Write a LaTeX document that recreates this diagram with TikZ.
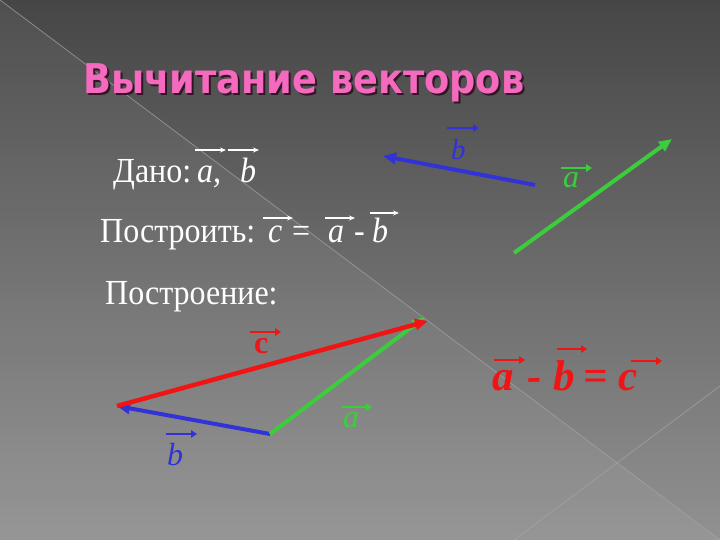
\documentclass[tikz,border=0pt]{standalone}
\usepackage{fontspec}
\setmainfont{Liberation Serif}
\newfontfamily\titlefont{DejaVu Sans}[BoldFont={DejaVu Sans Bold}]
\usetikzlibrary{arrows.meta}
\definecolor{bgtop}{RGB}{70,70,70}
\definecolor{bgbot}{RGB}{145,145,145}
\definecolor{titlepink}{RGB}{245,105,190}
\definecolor{titleshadow}{RGB}{50,22,38}
\definecolor{vblue}{RGB}{50,50,215}
\definecolor{vgreen}{RGB}{60,205,60}
\definecolor{vred}{RGB}{240,20,20}
\definecolor{diag}{RGB}{165,165,165}
\newcommand{\tallx}[1]{\scalebox{1}[1.1]{#1}}
\newcommand{\ttlx}[1]{\scalebox{0.895}[1]{#1}}
\newcommand{\shadowtitle}[1]{\rlap{\hspace{2pt}\raisebox{-2pt}{\color{titleshadow}\ttlx{#1}}}{\color{titlepink}\ttlx{#1}}}
\tikzset{
  txt/.style={inner sep=0pt, anchor=base west, text=white, font=\fontsize{32}{38}\selectfont},
  lbl/.style={inner sep=0pt, anchor=base west, font=\fontsize{32}{38}\selectfont\itshape},
  big/.style={inner sep=0pt, anchor=base west, text=vred, font=\fontsize{43}{48}\selectfont\bfseries\itshape},
  vec/.style={line width=4pt, -{Triangle[length=13pt,width=11pt]}},
  warrow/.style={white, line width=1.3pt, -{Stealth[length=6pt,width=5pt]}},
  carrow/.style={line width=2.8pt, -{Triangle[length=6pt,width=7.5pt]}},
  ttl/.style={inner sep=0pt, anchor=base west, font=\fontsize{41}{46}\selectfont\titlefont\bfseries},
}
\begin{document}
\begin{tikzpicture}[x=1pt,y=-1pt]
\useasboundingbox (0,0) rectangle (720,540);
% background
\shade[top color=bgtop, bottom color=bgbot] (0,0) rectangle (720,540);
\fill[white, opacity=0.05] (0,0) -- (720,540) -- (0,540) -- cycle;
\draw[diag, line width=0.8pt, opacity=0.7] (0,0) -- (720,540);
\draw[diag, line width=0.8pt, opacity=0.7] (720,386) -- (514,540);
% title (dark shadow behind pink text)
\node[ttl] (title) at (83,94) {\shadowtitle{Вычитание векторов}};
% given
\node[txt] (dano) at (113,183) {\tallx{Дано:}};
\node[txt] (da) at (197,183) {\tallx{\itshape a,}};
\node[txt] (db) at (240,183) {\tallx{\itshape b}};
\draw[warrow] (195,150) -- (226,150);
\draw[warrow] (228,150) -- (259,150);
% construct
\node[txt] (postr) at (100,242) {\tallx{Построить:}};
\node[txt] (pc) at (268,242) {\tallx{\itshape c}};
\node[txt] (peq) at (292,242) {\tallx{=}};
\node[txt] (pa) at (328,242) {\tallx{\itshape a}};
\node[txt] (pm) at (354,242) {\tallx{-}};
\node[txt] (pb) at (372,242) {\tallx{\itshape b}};
\draw[warrow] (263,218) -- (293,218);
\draw[warrow] (325,218) -- (355,218);
\draw[warrow] (370,213) -- (399,213);
% construction
\node[txt] (postroenie) at (105,304) {\tallx{Построение:}};
% top-right vectors
\coordinate (b1t) at (535,185);
\coordinate (b1h) at (383,156);
\draw[vec, vblue] (b1t) -- (b1h);
\coordinate (a1t) at (514,253);
\coordinate (a1h) at (672,139);
\draw[vec, vgreen] (a1t) -- (a1h);
\node[lbl, text=vblue, font=\fontsize{29}{34}\selectfont\itshape] (lb1) at (451,160) {b};
\draw[carrow, vblue] (447,128) -- (479,128);
\node[lbl, text=vgreen] (la1) at (563,188) {a};
\draw[carrow, vgreen] (561,168) -- (592,168);
% triangle
\coordinate (P) at (270,434);
\coordinate (Q) at (117,406);
\coordinate (R) at (428,321);
\draw[vec, vblue] (P) -- (Q);
\draw[vec, vgreen] (P) -- ([shift={(-3pt,4pt)}]R);
\draw[vec, vred, line width=4.5pt] (Q) -- (R);
\node[inner sep=0pt, anchor=base west, text=vred, font=\fontsize{32}{38}\selectfont\bfseries] (lc) at (254,353) {c};
\draw[carrow, vred] (250,332) -- (281,332);
\node[lbl, text=vgreen] (la2) at (343,427) {a};
\draw[carrow, vgreen] (342,407) -- (372,407);
\node[lbl, text=vblue] (lb2) at (167,465) {b};
\draw[carrow, vblue] (166,434) -- (197,434);
% formula
\node[big] (fa) at (492,390) {a};
\node[big] (fm) at (527,390) {-};
\node[big] (fb) at (553,390) {b};
\node[big] (fe) at (583,390) {=};
\node[big] (fc) at (618,390) {c};
\draw[carrow, vred] (494,360) -- (525,360);
\draw[carrow, vred] (557,349) -- (587,349);
\draw[carrow, vred] (631,361) -- (662,361);
\end{tikzpicture}
\end{document}
